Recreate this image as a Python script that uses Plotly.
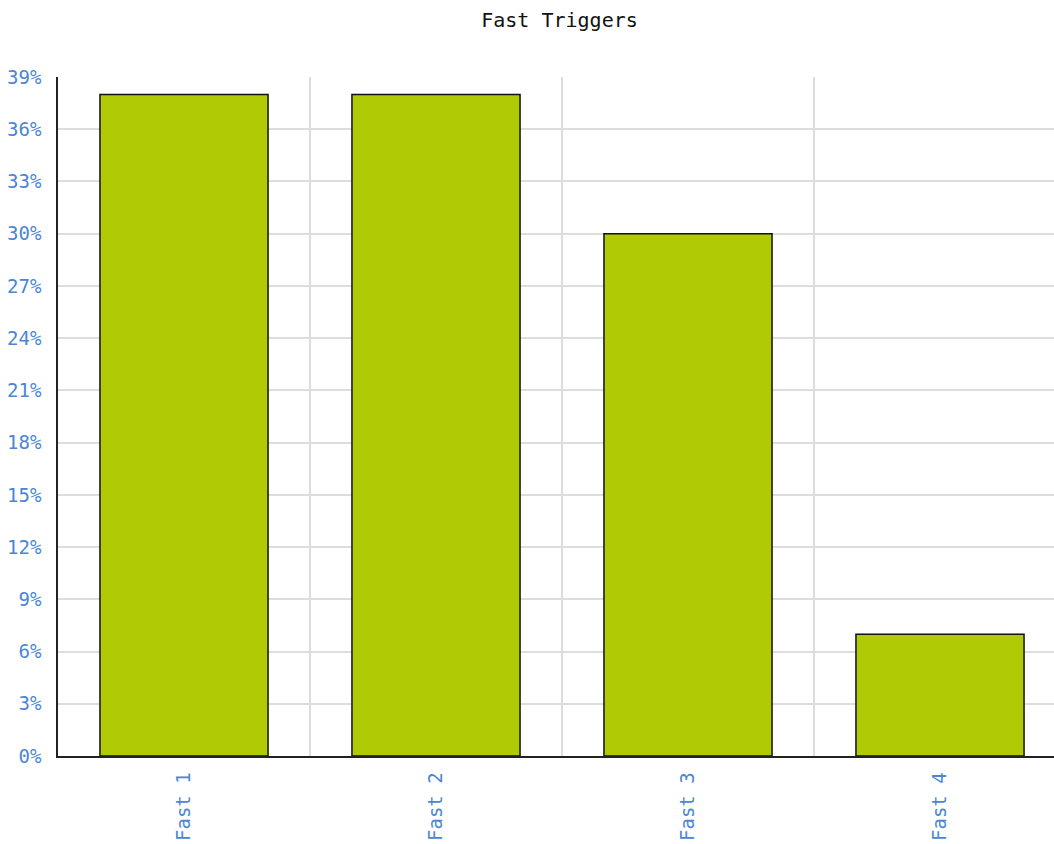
import plotly.graph_objects as go

# chart data
categories = ["Fast 1", "Fast 2", "Fast 3", "Fast 4"]
values = [38, 38, 30, 7]
y_ticks = list(range(0, 40, 3))

font_family = "DejaVu Sans Mono, Liberation Mono, monospace"
tick_color = "#4a86d4"

fig = go.Figure()

fig.add_trace(go.Bar(
    x=categories,
    y=values,
    width=0.667,
    marker=dict(color="#b0cb06", line=dict(color="#111111", width=1.5)),
    hoverinfo="x+y",
))

# plot area runs past the right edge of the window, like the original
fig.update_layout(
    title=dict(text="Fast Triggers", xref="container", x=559.5 / 1066, xanchor="center",
               yref="container", y=1 - 20 / 844, yanchor="middle",
               font=dict(family=font_family, size=20, color="#111111")),
    width=1066,
    height=844,
    margin=dict(l=58, r=0, t=77, b=88),
    plot_bgcolor="white",
    paper_bgcolor="white",
    showlegend=False,
)

fig.update_xaxes(
    type="category",
    tickson="boundaries",
    showgrid=True,
    gridcolor="#dddddd",
    gridwidth=1.5,
    showline=True,
    linecolor="#222222",
    linewidth=1.5,
    ticks="",
    ticklabelstandoff=7,
    tickangle=-90,
    automargin=False,
    tickfont=dict(family=font_family, size=19, color=tick_color),
    range=[-0.5, 3.5],
)

fig.update_yaxes(
    range=[0, 39],
    tickvals=y_ticks,
    ticktext=[f"{v}%" for v in y_ticks],
    showgrid=True,
    gridcolor="#dddddd",
    gridwidth=1.5,
    showline=True,
    linecolor="#222222",
    linewidth=1.5,
    zeroline=False,
    ticks="",
    ticklabelstandoff=11,
    automargin=False,
    tickfont=dict(family=font_family, size=19, color=tick_color),
)

# drop the default body margin so the figure sits at the window's corner
fig.write_html(
    "out.html",
    config={"displayModeBar": False},
    post_script="document.body.style.margin='0';document.body.style.overflow='hidden';",
)
